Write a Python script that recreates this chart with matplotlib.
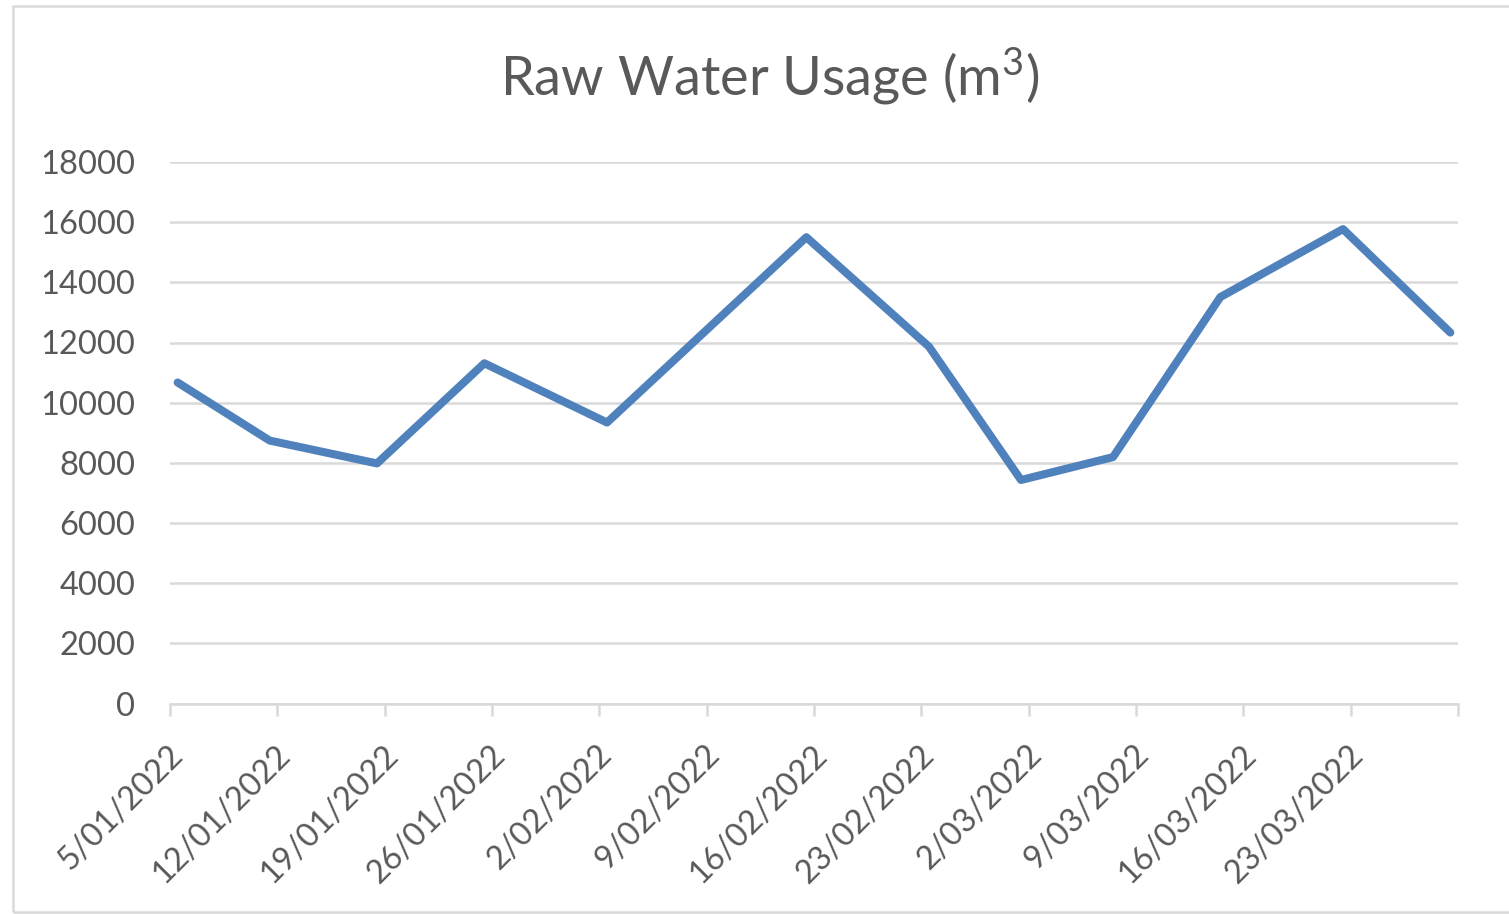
"""Raw water usage line chart (Excel style)."""
import datetime as dt

import matplotlib
matplotlib.use("Agg")
import matplotlib.pyplot as plt
import matplotlib.dates as mdates
import matplotlib.transforms as mtransforms
from matplotlib.patches import Rectangle

# data
dates = ["2022-01-05", "2022-01-11", "2022-01-18", "2022-01-25", "2022-02-02",
         "2022-02-15", "2022-02-23", "2022-03-01", "2022-03-07", "2022-03-14",
         "2022-03-22", "2022-03-29"]
usage = [10670, 8740, 7980, 11310, 9340, 15500, 11860, 7430, 8190, 13510,
         15770, 12330]
axis_start = "2022-01-05"
axis_weeks = 12
y_ticks = [0, 2000, 4000, 6000, 8000, 10000, 12000, 14000, 16000, 18000]

TEXT = "#595959"
GRID = "#d9d9d9"
LINE = "#4f81bd"

plt.rcParams["font.family"] = ["Lato", "DejaVu Sans"]
plt.rcParams["mathtext.fontset"] = "custom"
plt.rcParams["mathtext.rm"] = "Lato"
plt.rcParams["mathtext.it"] = "Lato"
plt.rcParams["mathtext.default"] = "rm"

start = dt.date.fromisoformat(axis_start)
tick_days = [start + dt.timedelta(days=7 * k) for k in range(axis_weeks + 1)]
tick_labels = [f"{d.day}/{d.month:02d}/{d.year}" for d in tick_days[:-1]] + [""]

# Excel date axis puts each point in the middle of its day
x = [mdates.date2num(dt.date.fromisoformat(d)) + 0.5 for d in dates]

fig = plt.figure(figsize=(15.09, 9.14), dpi=100)
ax = fig.add_axes([170 / 1509, 1 - 703.5 / 914, (1458 - 170) / 1509, (703.5 - 162) / 914])

ax.plot(x, usage, color=LINE, lw=5.8, solid_capstyle="round",
        solid_joinstyle="round", zorder=3)

ax.set_xlim(mdates.date2num(tick_days[0]), mdates.date2num(tick_days[-1]))
ax.set_ylim(0, 18000)
ax.set_yticks(y_ticks)
ax.set_yticklabels([str(v) for v in y_ticks])
ax.set_xticks([mdates.date2num(d) for d in tick_days])
ax.set_xticklabels(tick_labels, rotation=45, ha="right", va="center",
                   rotation_mode="anchor")

ax.yaxis.grid(True, color=GRID, lw=1.8)
ax.set_axisbelow(True)
for side in ["left", "right", "top"]:
    ax.spines[side].set_visible(False)
ax.spines["bottom"].set_color(GRID)
ax.spines["bottom"].set_linewidth(1.8)
ax.spines["bottom"].set_zorder(2)

ax.tick_params(axis="y", length=0, pad=25, labelsize=23.5, labelcolor=TEXT)
ax.tick_params(axis="x", length=8.6, width=1.8, color=GRID, pad=24,
               labelsize=23.5, labelcolor=TEXT)

# nudge the rotated date labels a little to the right, like Excel does
# (after tick_params, which resets the label transforms)
shift = mtransforms.ScaledTranslation(6 / 72, -1 / 72, fig.dpi_scale_trans)
for tick in ax.xaxis.get_major_ticks():
    tick.label1.set_transform(tick.label1.get_transform() + shift)

fig.text(770 / 1509, 1 - 96 / 914, "Raw Water Usage (m$^3$)", ha="center",
         va="baseline", fontsize=39, color=TEXT)

# chart area border
fig.patches.append(Rectangle((13 / 1509, 1 - 912 / 914), 1.1, 906 / 914,
                             transform=fig.transFigure, fill=False,
                             edgecolor=GRID, lw=1.8, clip_on=False))

plt.savefig("out.png", dpi=100)
plt.close()
